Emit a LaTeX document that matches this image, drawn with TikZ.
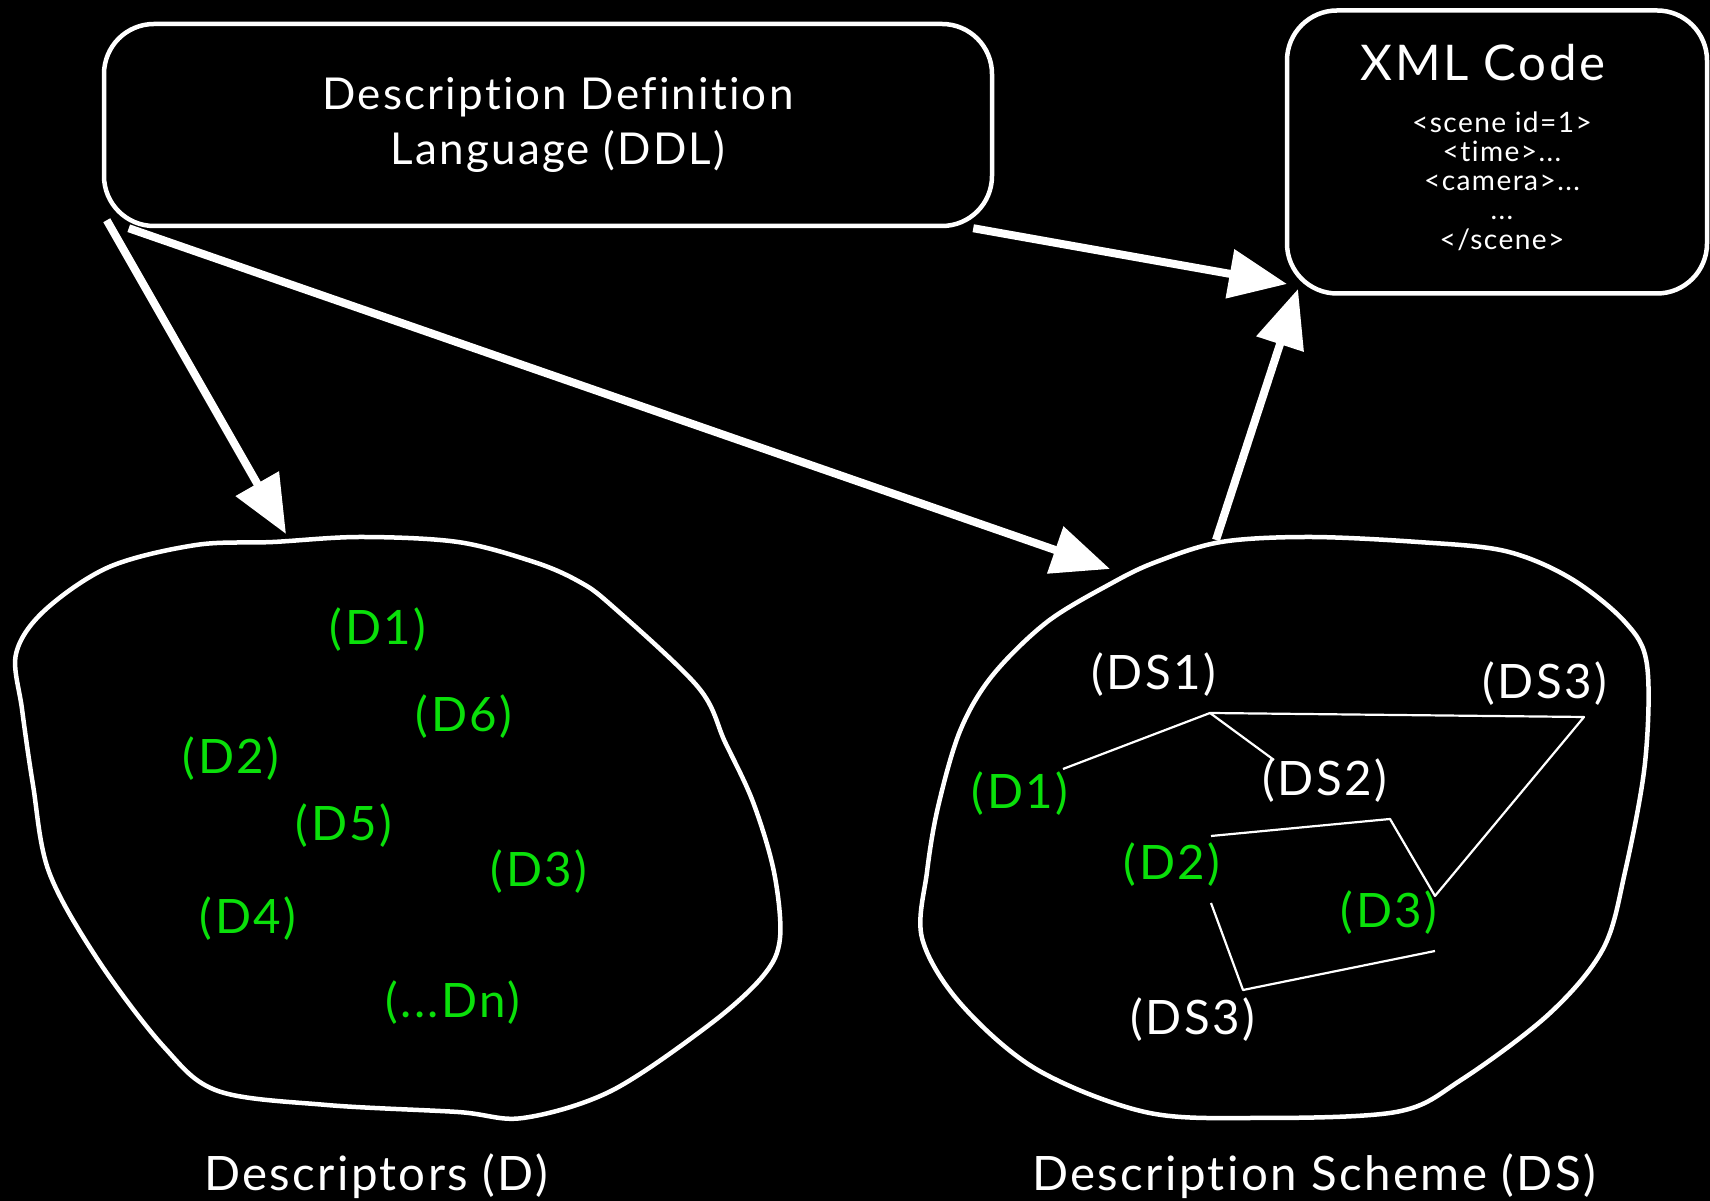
\documentclass[tikz,border=0pt]{standalone}
\usepackage{fontspec}
\setmainfont[LetterSpace=5,Ligatures=NoCommon]{Lato}
\usetikzlibrary{arrows.meta}
\definecolor{labelgreen}{RGB}{10,224,10}

\begin{document}
\begin{tikzpicture}[x=0.1mm,y=-0.1mm,>={Triangle[length=5.8mm,width=4.8mm]},line join=round]
  \tikzstyle{box}=[draw=white,line width=0.45mm,rounded corners=5mm]
  \tikzstyle{blob}=[draw=white,line width=0.45mm]
  \tikzstyle{big arrow}=[->,draw=white,line width=0.8mm]
  \tikzstyle{link}=[draw=white,line width=0.22mm]
  \tikzstyle{d label}=[text=labelgreen,inner sep=0pt,font=\fontsize{13.5}{16}\selectfont]
  \tikzstyle{ds label}=[d label,text=white]
  \tikzstyle{caption}=[text=white,inner sep=0pt,font=\fontsize{13.5}{16}\selectfont]
  \fill[black] (0,0) rectangle (1710,1201);
  % top boxes
  \node [box,minimum width=88.8mm,minimum height=20.2mm] (ddl) at (548,125) {};
  \node [text=white,align=center,font=\fontsize{12.5}{15.6}\selectfont] (ddltext) at (558,125)
        {Description Definition\\Language (DDL)};
  \node [box,minimum width=42mm,minimum height=28.3mm] (xml) at (1497,152) {};
  \node [text=white,font=\fontsize{14}{17}\selectfont] (xmltitle) at (1483,63) {XML Code};
  \node [text=white,align=center,font=\fontsize{8}{8.3}\selectfont] (xmlcode) at (1502,181)
        {<scene id=1>\\<time>...\\<camera>...\\...\\</scene>};
  % the two sets
  \draw [blob] plot [smooth cycle,tension=0.55] coordinates {
    (16,654) (44,611) (109,567) (196,545) (273,542) (360,537) (458,542) (534,562)
    (578,581) (611,605) (698,687) (725,742) (753,802) (774,872) (780,938) (763,976)
    (709,1025) (611,1091) (523,1118) (458,1112) (327,1105) (218,1091) (164,1047)
    (98,960) (49,872) (33,785) (22,709)};
  \draw [blob] plot [smooth cycle,tension=0.55] coordinates {
    (1112,583) (1156,562) (1221,542) (1309,537) (1418,542) (1505,551) (1570,578)
    (1625,622) (1647,665) (1645,763) (1625,872) (1603,949) (1549,1014) (1461,1080)
    (1396,1112) (1254,1118) (1145,1112) (1036,1069) (960,1003) (922,938) (927,872)
    (938,807) (960,731) (992,676) (1047,622)};
  \coordinate (dtop) at (286,534);
  \coordinate (dstop) at (1110,569);
  \coordinate (dsout) at (1216,540);
  \coordinate (xmlin) at (1287,284);
  \coordinate (xmlin2) at (1298,289);
  % descriptors
  \node [d label] (d1) at (378,630) {(D1)};
  \node [d label] (d6) at (464,717) {(D6)};
  \node [d label] (d2) at (231,759) {(D2)};
  \node [d label] (d5) at (344,826) {(D5)};
  \node [d label] (d3) at (539,872) {(D3)};
  \node [d label] (d4) at (248,919) {(D4)};
  \node [d label] (dn) at (453,1003) {(...Dn)};
  % description scheme
  \node [ds label] (ds1) at (1154,675) {(DS1)};
  \node [ds label] (ds3a) at (1545,684) {(DS3)};
  \node [d label] (sd1) at (1020,794) {(D1)};
  \node [ds label] (ds2) at (1325,781) {(DS2)};
  \node [d label] (sd2) at (1172,865) {(D2)};
  \node [d label] (sd3) at (1389,913) {(D3)};
  \node [ds label] (ds3b) at (1193,1020) {(DS3)};
  \coordinate (j1) at (1210,713);
  \coordinate (j2) at (1584,717);
  \coordinate (j4) at (1390,819);
  \draw [link] (1063,769) -- (j1) -- (j2) -- (1435,896) -- (j4) -- (1211,836);
  \draw [link] (j1) -- (1274,760);
  \draw [link] (1211,903) -- (1243,990) -- (1435,951);
  % arrows
  \draw [big arrow] ([xshift=0.5mm,yshift=0.8mm]ddl.south west) -- (dtop);
  \draw [big arrow] ([xshift=2.7mm]ddl.south west) -- (dstop);
  \draw [big arrow] ([xshift=-2.1mm]ddl.south east) -- (xmlin);
  \draw [big arrow] (dsout) -- (xmlin2);
  % captions
  \node [caption] (dcap) at (376,1176) {Descriptors (D)};
  \node [caption] (dscap) at (1314,1176) {Description Scheme (DS)};
\end{tikzpicture}
\end{document}
